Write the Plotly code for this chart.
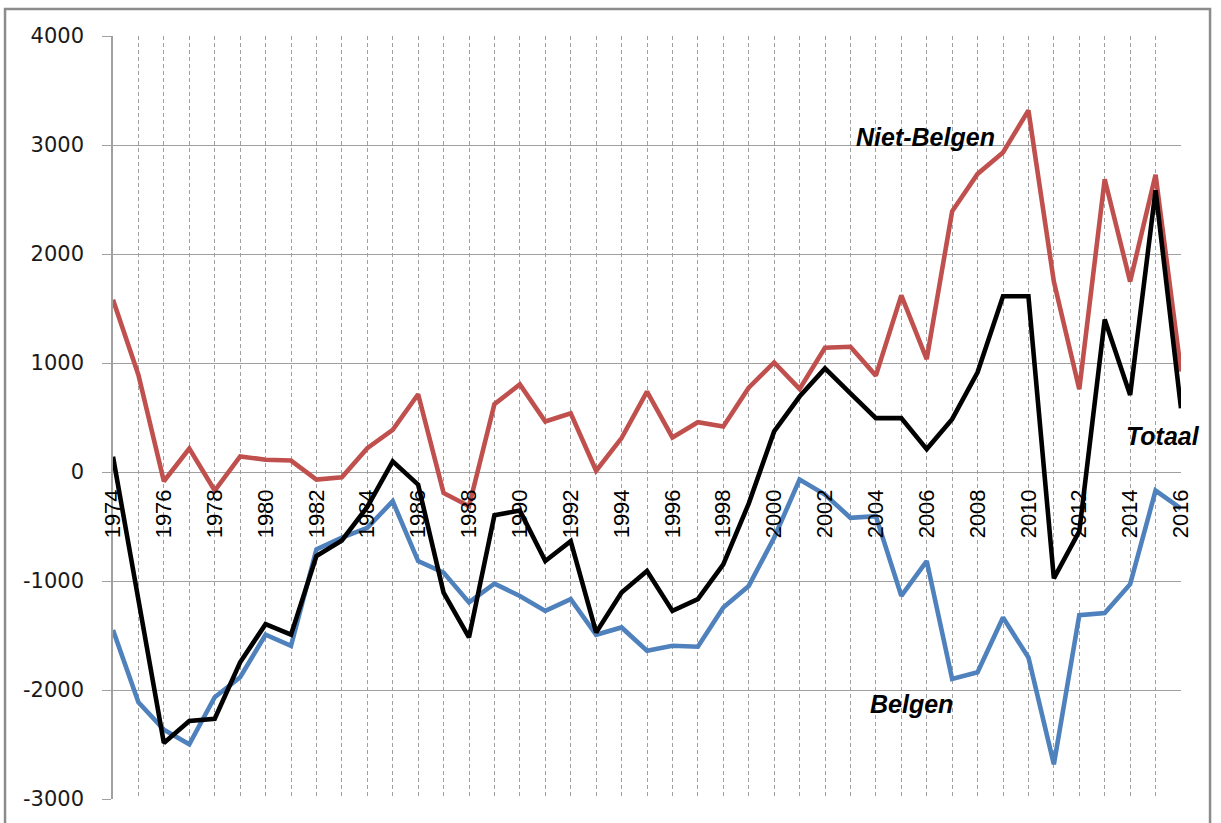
import plotly.graph_objects as go

years = list(range(1974, 2017))

niet_belgen = [1580, 890, -85, 215, -170, 143, 113, 105, -70, -49, 219, 387, 713, -192, -314,
               622, 804, 463, 539, 12, 311, 738, 317, 457, 418, 774, 1005, 762, 1140, 1149,
               884, 1620, 1036, 2392, 2735, 2931, 3318, 1747, 759, 2686, 1747, 2727, 922]

belgen = [-1450, -2112, -2364, -2498, -2066, -1883, -1493, -1594, -710, -603, -512, -268, -817,
          -923, -1197, -1024, -1137, -1274, -1167, -1493, -1426, -1639, -1594, -1603, -1243,
          -1045, -603, -70, -207, -420, -405, -1136, -817, -1898, -1837, -1335, -1702, -2682,
          -1314, -1294, -1029, -171, -335]

totaal = [140, -1180, -2486, -2285, -2264, -1746, -1396, -1493, -771, -628, -320, 98, -116,
          -1106, -1517, -396, -354, -817, -634, -1472, -1106, -908, -1274, -1167, -847, -290,
          372, 692, 951, 722, 494, 494, 210, 485, 915, 1612, 1612, -976, -545, 1400, 706,
          2584, 584]

x_tick_labels = [str(y) for y in range(1974, 2017, 2)]
y_tick_values = [-3000, -2000, -1000, 0, 1000, 2000, 3000, 4000]

series_labels = ["Niet-Belgen", "Totaal", "Belgen"]

RED = "#c0504d"
BLUE = "#4f81bd"
BLACK = "#000000"
GRID = "#a0a0a0"

fig = go.Figure()
fig.add_trace(go.Scatter(x=years, y=niet_belgen, mode="lines", name="Niet-Belgen",
                         line=dict(color=RED, width=4.6)))
fig.add_trace(go.Scatter(x=years, y=belgen, mode="lines", name="Belgen",
                         line=dict(color=BLUE, width=4.6)))
fig.add_trace(go.Scatter(x=years, y=totaal, mode="lines", name="Totaal",
                         line=dict(color=BLACK, width=4.6)))

label_font = dict(family="Liberation Sans, Arial, sans-serif", size=25, color="#000000")
ann_pos = {"Niet-Belgen": (2003.15, 3070), "Totaal": (2013.75, 333), "Belgen": (2003.7, -2129)}
for name in series_labels:
    ax_, ay_ = ann_pos[name]
    fig.add_annotation(x=ax_, y=ay_, xref="x", yref="y", text="<b><i>%s</i></b>" % name,
                       showarrow=False, xanchor="left", yanchor="middle", font=label_font)

# outer frame
fig.add_shape(type="rect", xref="paper", yref="paper",
              x0=-0.1011, x1=1.0272, y0=-0.08, y1=1.0353,
              line=dict(color="#8c8c8c", width=2.5), fillcolor="rgba(0,0,0,0)", layer="above")

fig.update_layout(
    width=1221, height=823,
    margin=dict(l=113, r=40, t=36, b=21),
    paper_bgcolor="white", plot_bgcolor="white",
    showlegend=False,
    xaxis=dict(
        range=[1974, 2016],
        tickmode="array",
        tickvals=[int(t) for t in x_tick_labels],
        ticktext=x_tick_labels,
        tickangle=-90,
        tickfont=dict(family="Liberation Sans, Arial, sans-serif", size=22, color="#000000"),
        ticks="",
        anchor="free", position=3 / 7,
        showline=False, zeroline=False,
        showgrid=True, gridcolor=GRID, gridwidth=1, griddash="4px,3px",
        minor=dict(tickmode="linear", tick0=1974, dtick=1, showgrid=True, gridcolor=GRID,
                   gridwidth=1, griddash="4px,3px"),
        ticklabelstandoff=12,
    ),
    yaxis=dict(
        range=[-3000, 4000],
        tickmode="array", tickvals=y_tick_values,
        ticktext=[str(v) for v in y_tick_values],
        tickfont=dict(family="DejaVu Sans, Verdana, sans-serif", size=21, color="#1a1a1a"),
        ticks="outside", ticklen=9, tickcolor=GRID, tickwidth=1,
        showline=True, linecolor=GRID, linewidth=1.5,
        showgrid=True, gridcolor=GRID, gridwidth=1.2,
        zeroline=False,
        ticklabelstandoff=14,
    ),
)

fig.write_html("out.html", config={"displayModeBar": False},
               post_script="document.body.style.margin='0';document.body.style.overflow='hidden';")
